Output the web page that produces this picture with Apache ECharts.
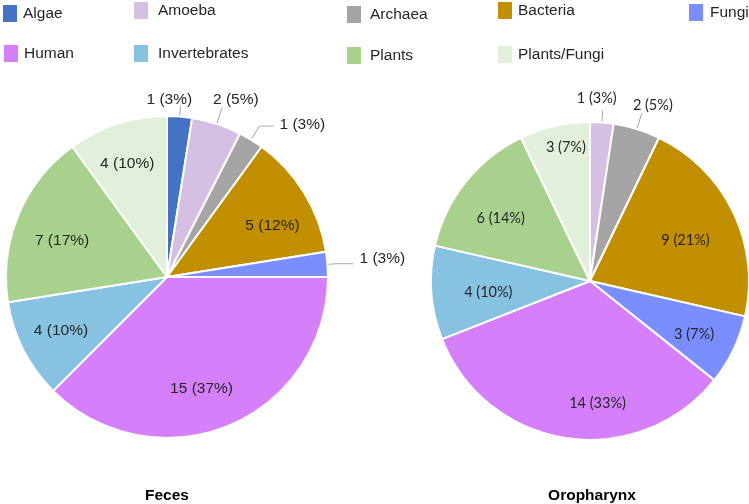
<!DOCTYPE html>
<html>
<head>
<meta charset="utf-8">
<script src="https://cdn.jsdelivr.net/npm/echarts@6/dist/echarts.min.js"></script>
<style>html,body{margin:0;padding:0;background:#fff}#c{width:749px;height:504px}</style>
</head>
<body>
<div id="c"></div>
<script>
// ---- data ----
const fecesCategories = ['Algae','Amoeba','Archaea','Bacteria','Fungi','Human','Invertebrates','Plants','Plants/Fungi'];
const fecesCounts = [1, 2, 1, 5, 1, 15, 4, 7, 4];
const fecesPct = [3, 5, 3, 12, 3, 37, 10, 17, 10];
const oroCategories = ['Amoeba','Archaea','Bacteria','Fungi','Human','Invertebrates','Plants','Plants/Fungi'];
const oroCounts = [1, 2, 9, 3, 14, 4, 6, 3];
const oroPct = [3, 5, 21, 7, 33, 10, 14, 7];
const legendNames = ['Algae','Amoeba','Archaea','Bacteria','Fungi','Human','Invertebrates','Plants','Plants/Fungi'];
const titles = ['Feces', 'Oropharynx'];

// ---- styles ----
const colors = {
  'Algae': '#4472C4', 'Amoeba': '#D5C0E4', 'Archaea': '#A5A5A5', 'Bacteria': '#C28F00',
  'Fungi': '#7A8EFF', 'Human': '#D580FA', 'Invertebrates': '#88C2E1', 'Plants': '#A9D18E',
  'Plants/Fungi': '#E2EFDA'
};
const ARIAL = 'Liberation Sans, Arial, sans-serif';
const LATO = 'Lato, Carlito, Calibri, sans-serif';
const TXT = '#262626';

const fecesGeom = { center: [167, 277], r: 161, font: ARIAL, size: 15.5 };
const oroGeom = { center: [590, 281], r: 159, font: LATO, size: 14.5 };

// outside-label tweaks (style only); lift = how far the text sits above the line end
const fecesOutside = {
  'Algae':   { length: 11, length2: 0, dist: -34, lift: 6 },
  'Amoeba':  { length: 17, length2: 0, dist: -9,  lift: 8 },
  'Archaea': { length: 16, length2: 14, dist: 6,  lift: 1 },
  'Fungi':   { length: 8,  length2: 18, dist: 6,  lift: 5 }
};
const oroOutside = {
  'Amoeba':  { length: 12, length2: 0, dist: -26, lift: 12 },
  'Archaea': { length: 17, length2: 0, dist: -9,  lift: 7 }
};
// inside-label rings: [r0, r1] -> label sits at the ring middle; nudges fine-tune
const fecesInside = [ { ring: [71, 161], names: ['Bacteria','Human','Invertebrates','Plants','Plants/Fungi'] } ];
const oroInside = [
  { ring: [46, 160], names: ['Bacteria','Invertebrates'] },
  { ring: [65, 160], names: ['Plants','Fungi'] },
  { ring: [82, 160], names: ['Human'] },
  { ring: [114, 160], names: ['Plants/Fungi'] }
];
const fecesNudge = { 'Bacteria': [4, 11], 'Plants': [5, 9], 'Human': [-11, 2], 'Plants/Fungi': [-3, 0] };
const oroNudge = { 'Plants': [1, 9], 'Bacteria': [0, 5], 'Invertebrates': [4, 3], 'Plants/Fungi': [7, 3],
  'Fungi': [0, 3], 'Human': [26, 0] };

function fmt(counts, pct) {
  return p => counts[p.dataIndex] + ' (' + pct[p.dataIndex] + '%)';
}

function mainSeries(cats, counts, pct, geom, outside) {
  return {
    type: 'pie', center: geom.center, radius: [0, geom.r],
    startAngle: 90, clockwise: true, avoidLabelOverlap: false, silent: true,
    itemStyle: { borderColor: '#fff', borderWidth: 2 },
    label: { show: false },
    labelLine: { show: false },
    data: cats.map((n, i) => {
      const o = outside[n];
      const item = { name: n, value: counts[i], itemStyle: { color: colors[n] } };
      if (o) {
        item.label = { show: true, position: 'outside',
          formatter: p => counts[p.dataIndex] + ' (' + pct[p.dataIndex] + '%)' + (o.lift ? '\n{s| }' : ''),
          rich: { s: { fontSize: 1, height: 2 * o.lift, lineHeight: 2 * o.lift } },
          fontFamily: geom.font, fontSize: geom.size, color: TXT,
          distanceToLabelLine: o.dist };
        item.labelLine = { show: true, length: o.length, length2: o.length2, smooth: false,
          lineStyle: { color: '#A6A6A6', width: 1 } };
      }
      return item;
    })
  };
}

function insideSeries(cats, counts, pct, geom, grp, nudge) {
  return {
    type: 'pie', center: geom.center, radius: grp.ring,
    startAngle: 90, clockwise: true, avoidLabelOverlap: false, silent: true,
    itemStyle: { color: 'rgba(0,0,0,0)', borderWidth: 0 },
    labelLine: { show: false },
    label: { show: true, position: 'inside', formatter: fmt(counts, pct),
      fontFamily: geom.font, fontSize: geom.size, color: TXT },
    labelLayout: p => {
      const nd = nudge[cats[p.dataIndex]];
      return nd ? { dx: nd[0], dy: nd[1] } : {};
    },
    emphasis: { disabled: true },
    data: cats.map((n, i) => ({ name: n, value: counts[i],
      label: { show: grp.names.indexOf(n) >= 0 } }))
  };
}

const legendPos = {
  'Algae': { left: 1, top: 3, pad: [0, 0, 0, 0] },
  'Amoeba': { left: 132, top: 0, pad: [0, 0, 0, 4] },
  'Archaea': { left: 345, top: 4, pad: [0, 0, 0, 3] },
  'Bacteria': { left: 496, top: 0, pad: [0, 0, 0, 0] },
  'Fungi': { left: 687, top: 2, pad: [0, 0, 0, 1] },
  'Human': { left: 2, top: 43, pad: [0, 0, 0, 0] },
  'Invertebrates': { left: 132, top: 43, pad: [0, 0, 0, 4] },
  'Plants': { left: 345, top: 45, pad: [0, 0, 0, 3] },
  'Plants/Fungi': { left: 496, top: 44, pad: [0, 0, 0, 0] }
};

const legends = legendNames.map(n => ({
  show: true, orient: 'horizontal', padding: 0, selectedMode: false,
  left: legendPos[n].left, top: legendPos[n].top,
  icon: 'rect', itemWidth: 16, itemHeight: 19,
  textStyle: { fontFamily: ARIAL, fontSize: 15.5, color: TXT, padding: legendPos[n].pad },
  data: [{ name: n, itemStyle: { color: colors[n] } }]
}));

const series = [mainSeries(fecesCategories, fecesCounts, fecesPct, fecesGeom, fecesOutside)]
  .concat(fecesInside.map(g => insideSeries(fecesCategories, fecesCounts, fecesPct, fecesGeom, g, fecesNudge)))
  .concat([mainSeries(oroCategories, oroCounts, oroPct, oroGeom, oroOutside)])
  .concat(oroInside.map(g => insideSeries(oroCategories, oroCounts, oroPct, oroGeom, g, oroNudge)));

const chart = echarts.init(document.getElementById('c'), null, { renderer: 'canvas' });
chart.setOption({
  animation: false,
  backgroundColor: '#fff',
  title: [
    { text: titles[0], left: 167, top: 488, textAlign: 'center', padding: 0,
      textStyle: { fontFamily: ARIAL, fontSize: 15.5, fontWeight: 'bold', color: '#000' } },
    { text: titles[1], left: 592, top: 488, textAlign: 'center', padding: 0,
      textStyle: { fontFamily: ARIAL, fontSize: 15.5, fontWeight: 'bold', color: '#000' } }
  ],
  legend: legends,
  series: series
});
</script>
</body>
</html>
